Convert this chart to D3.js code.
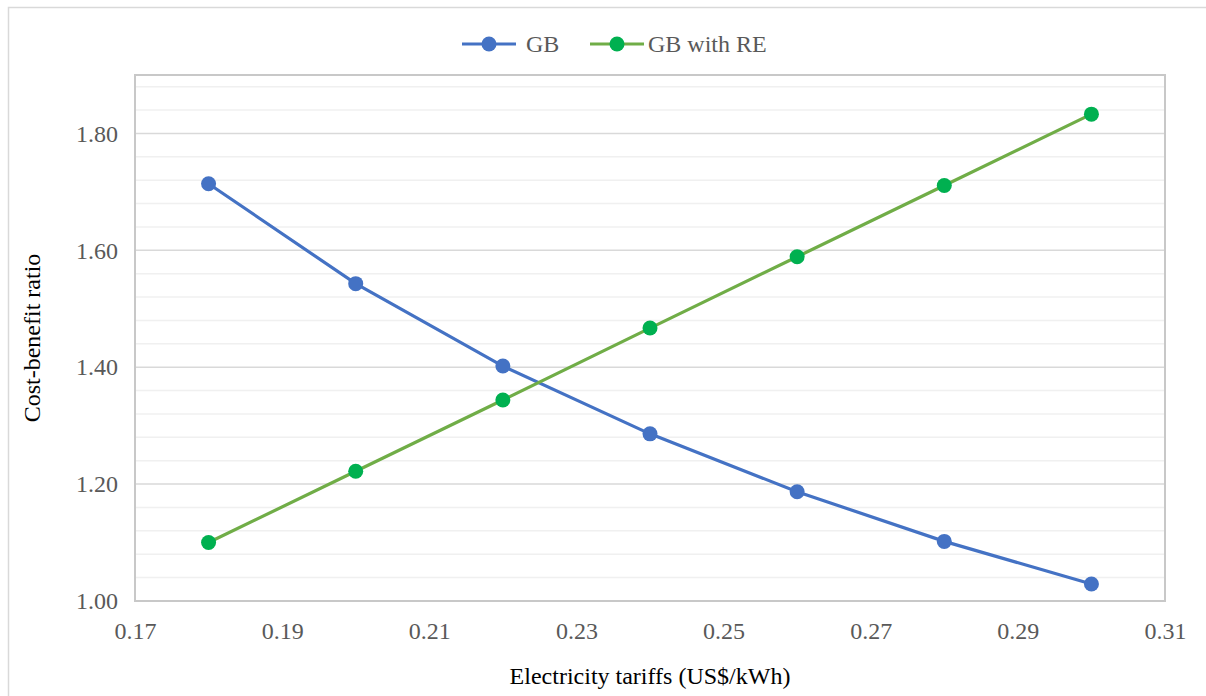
<!DOCTYPE html>
<html>
<head>
<meta charset="utf-8">
<script src="https://cdn.jsdelivr.net/npm/d3@7"></script>
<style>
  body { margin: 0; background: #fff; }
  svg { display: block; font-family: "Liberation Serif", "Times New Roman", serif; }
</style>
</head>
<body>
<svg id="canvas" width="1206" height="696"></svg>
<script>
// data
const tariffs = [0.18, 0.20, 0.22, 0.24, 0.26, 0.28, 0.30]
const gb = [1.714, 1.543, 1.402, 1.286, 1.187, 1.102, 1.029]
const gbWithRE = [1.100, 1.222, 1.344, 1.467, 1.589, 1.711, 1.833]
const xTicks = [0.17, 0.19, 0.21, 0.23, 0.25, 0.27, 0.29, 0.31]
const yTicks = [1.00, 1.20, 1.40, 1.60, 1.80]
const seriesNames = ['GB', 'GB with RE']

const serif = '"Liberation Serif", "Times New Roman", serif'

let svg = d3.select('#canvas')

// outer chart border
svg.append('rect')
  .attr('x', 8.5).attr('y', 7.5)
  .attr('width', 1210).attr('height', 700)
  .attr('fill', 'none').attr('stroke', '#d9d9d9').attr('stroke-width', 1.5)

const plotLeft = 135, plotRight = 1165, plotTop = 75, plotBottom = 601

let x = d3.scaleLinear().domain([0.17, 0.31]).range([plotLeft, plotRight])
let y = d3.scaleLinear().domain([1.0, 1.9]).range([plotBottom, plotTop])

// minor gridlines every 0.04
let minor = d3.range(1.04, 1.9, 0.04).map(v => +v.toFixed(2)).filter(v => Math.abs(v * 5 - Math.round(v * 5)) > 1e-6)
svg.append('g').selectAll('line')
  .data(minor)
  .enter().append('line')
  .attr('x1', plotLeft).attr('x2', plotRight)
  .attr('y1', d => y(d)).attr('y2', d => y(d))
  .attr('stroke', '#f0f0f0').attr('stroke-width', 1.5)

// major gridlines
svg.append('g').selectAll('line')
  .data(yTicks.slice(1))
  .enter().append('line')
  .attr('x1', plotLeft).attr('x2', plotRight)
  .attr('y1', d => y(d)).attr('y2', d => y(d))
  .attr('stroke', '#d9d9d9').attr('stroke-width', 1.5)

// plot border
svg.append('rect')
  .attr('x', plotLeft).attr('y', plotTop)
  .attr('width', plotRight - plotLeft).attr('height', plotBottom - plotTop)
  .attr('fill', 'none').attr('stroke', '#c8c8c8').attr('stroke-width', 2)

// axes
let xAxis = svg.append('g')
  .attr('transform', `translate(0,${plotBottom})`)
  .call(d3.axisBottom(x).tickValues(xTicks).tickFormat(d3.format('.2f')).tickSize(0).tickPadding(21))
let yAxis = svg.append('g')
  .attr('transform', `translate(${plotLeft},0)`)
  .call(d3.axisLeft(y).tickValues(yTicks).tickFormat(d3.format('.2f')).tickSize(0).tickPadding(17))
;[xAxis, yAxis].forEach(a => {
  a.attr('font-family', serif).attr('font-size', 24)
  a.select('.domain').remove()
  a.selectAll('text').attr('fill', '#595959')
})

// axis titles
svg.append('text')
  .attr('x', (plotLeft + plotRight) / 2).attr('y', 684)
  .attr('text-anchor', 'middle')
  .attr('font-family', serif).attr('font-size', 24).attr('fill', '#000')
  .text('Electricity tariffs (US$/kWh)')
svg.append('text')
  .attr('transform', `translate(40,${(plotTop + plotBottom) / 2}) rotate(-90)`)
  .attr('text-anchor', 'middle')
  .attr('font-family', serif).attr('font-size', 24).attr('fill', '#000')
  .text('Cost-benefit ratio')

// series
const series = [
  { name: seriesNames[0], values: gb, line: '#4472c4', dot: '#4472c4' },
  { name: seriesNames[1], values: gbWithRE, line: '#70ad47', dot: '#00b050' }
]

let line = d3.line().x((d, i) => x(tariffs[i])).y(d => y(d))

series.forEach(s => {
  svg.append('path')
    .attr('d', line(s.values))
    .attr('fill', 'none').attr('stroke', s.line).attr('stroke-width', 3.2)
  svg.append('g').selectAll('circle')
    .data(s.values)
    .enter().append('circle')
    .attr('cx', (d, i) => x(tariffs[i])).attr('cy', d => y(d))
    .attr('r', 7.5).attr('fill', s.dot)
})

// legend
const legendX = [462, 590]
series.forEach((s, i) => {
  let g = svg.append('g').attr('transform', `translate(${legendX[i]},44)`)
  g.append('line').attr('x1', 0).attr('x2', 54).attr('y1', 0).attr('y2', 0)
    .attr('stroke', s.line).attr('stroke-width', 3.2)
  g.append('circle').attr('cx', 27).attr('cy', 0).attr('r', 7.5).attr('fill', s.dot)
  g.append('text').attr('x', i === 0 ? 64 : 58).attr('y', 8)
    .attr('font-family', serif).attr('font-size', 24).attr('fill', '#595959')
    .text(s.name)
})
</script>
</body>
</html>
